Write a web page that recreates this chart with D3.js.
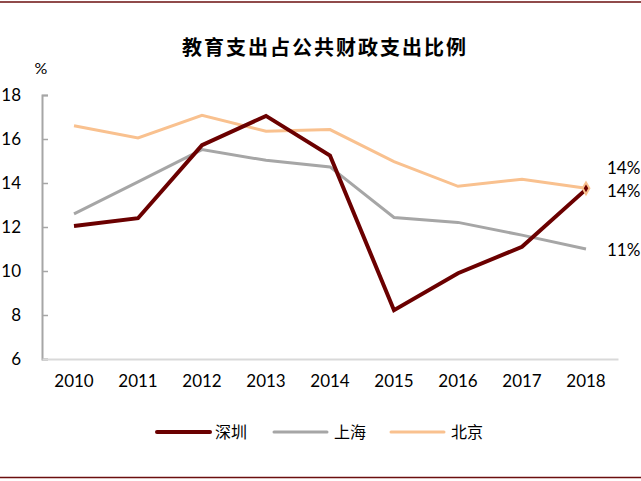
<!DOCTYPE html>
<html>
<head>
<meta charset="utf-8">
<script src="https://cdn.jsdelivr.net/npm/d3@7"></script>
<style>
  body { margin: 0; background: #fff; }
  svg { display: block; }
</style>
</head>
<body>
<div id="chart"></div>
<script>
// data
var years = ["2010", "2011", "2012", "2013", "2014", "2015", "2016", "2017", "2018"];
var shenzhen = [12.05, 12.4, 15.72, 17.05, 15.25, 8.22, 9.9, 11.1, 13.71];
var shanghai = [12.6, 14.05, 15.52, 15.03, 14.73, 12.43, 12.21, 11.63, 11.0];
var beijing = [16.6, 16.05, 17.08, 16.35, 16.43, 14.97, 13.85, 14.17, 13.76];
var yTicks = [6, 8, 10, 12, 14, 16, 18];
var endLabels = ["14%", "11%", "14%"];

var series = [
  {name: "深圳", values: shenzhen, color: "#6b0000", width: 4, end: endLabels[0], dy: 2},
  {name: "上海", values: shanghai, color: "#a6a6a6", width: 3, end: endLabels[1], dy: 1},
  {name: "北京", values: beijing, color: "#f9c18f", width: 3, end: endLabels[2], dy: -20}
];

var W = 641, H = 481;
var margin = {top: 95, left: 42, right: 23, bottom: 122};

var svg = d3.select("#chart").append("svg")
  .attr("width", W)
  .attr("height", H);

// frame lines top and bottom
svg.append("line").attr("x1", 0).attr("x2", W).attr("y1", 2).attr("y2", 2)
  .attr("stroke", "#6b0f0f").attr("stroke-width", 1.5);
svg.append("line").attr("x1", 0).attr("x2", W).attr("y1", 477.5).attr("y2", 477.5)
  .attr("stroke", "#6b0f0f").attr("stroke-width", 1.5);

var x = d3.scaleBand()
  .domain(years)
  .range([margin.left, W - margin.right]);

var y = d3.scaleLinear()
  .domain([6, 18])
  .range([H - margin.bottom, margin.top]);

var font = "Lato, 'Open Sans', sans-serif";

// title
svg.append("text")
  .attr("x", 325).attr("y", 55)
  .attr("text-anchor", "middle")
  .style("font-family", "'Noto Sans CJK SC'")
  .style("font-weight", "bold")
  .style("font-size", "20px")
  .style("letter-spacing", "2px")
  .text("教育支出占公共财政支出比例");

svg.append("text")
  .attr("x", 41).attr("y", 74)
  .attr("text-anchor", "middle")
  .style("font-family", font)
  .style("font-size", "16px")
  .text("%");

// y axis
var yAxis = svg.append("g")
  .attr("transform", "translate(" + margin.left + ",0)")
  .call(d3.axisRight(y).tickValues(yTicks).tickSize(6).tickFormat(d3.format("d")));
yAxis.select(".domain").attr("stroke", "#a6a6a6").attr("stroke-width", 2);
yAxis.selectAll(".tick line").attr("stroke", "#a6a6a6").attr("stroke-width", 1.5);
yAxis.selectAll(".tick text")
  .attr("x", -21).attr("text-anchor", "end")
  .style("font-family", font).style("font-size", "17px").attr("fill", "#000");

// x axis
var xAxis = svg.append("g")
  .attr("transform", "translate(0," + (H - margin.bottom) + ")")
  .call(d3.axisBottom(x).tickSize(0).tickPadding(16));
xAxis.select(".domain").attr("stroke", "#d9d9d9").attr("stroke-width", 2);
xAxis.selectAll(".tick text")
  .style("font-family", font).style("font-size", "17px").attr("fill", "#000");

var line = d3.line()
  .x(function(d, i) { return x(years[i]) + x.bandwidth() / 2; })
  .y(function(d) { return y(d); });

// draw back to front: beijing, shanghai, shenzhen
var order = [series[2], series[1], series[0]];
svg.selectAll(".series")
  .data(order)
  .enter()
  .append("path")
  .attr("class", "series")
  .attr("fill", "none")
  .attr("stroke", function(d) { return d.color; })
  .attr("stroke-width", function(d) { return d.width; })
  .attr("stroke-linejoin", "miter")
  .attr("d", function(d) { return line(d.values); });

// end marker on beijing / shenzhen
var last = years[years.length - 1];
var lx = x(last) + x.bandwidth() / 2;
svg.append("path")
  .attr("d", d3.symbol(d3.symbolDiamond, 40)())
  .attr("transform", "translate(" + lx + "," + y(beijing[beijing.length - 1]) + ")")
  .attr("fill", "#6b0000").attr("stroke", "#f9c18f").attr("stroke-width", 2);

// end labels
svg.selectAll(".endlabel")
  .data(series)
  .enter()
  .append("text")
  .attr("class", "endlabel")
  .attr("x", 607)
  .attr("y", function(d) { return y(d.values[d.values.length - 1]) + d.dy + 6; })
  .style("font-family", font)
  .style("font-size", "17px")
  .text(function(d) { return d.end; });

// legend
var legend = svg.append("g").attr("transform", "translate(157,432)");
var lg = legend.selectAll("g")
  .data(series)
  .enter()
  .append("g")
  .attr("transform", function(d, i) { return "translate(" + (i * 117) + ",0)"; });
lg.append("line")
  .attr("x1", 0).attr("x2", 53)
  .attr("stroke", function(d) { return d.color; })
  .attr("stroke-width", function(d) { return d.width; })
  .attr("stroke-linecap", "round");
lg.append("text")
  .attr("x", function(d, i) { return i == 0 ? 58 : 60; })
  .attr("y", 6)
  .style("font-family", "'Noto Sans CJK SC'")
  .style("font-size", "16px")
  .text(function(d) { return d.name; });
</script>
</body>
</html>
